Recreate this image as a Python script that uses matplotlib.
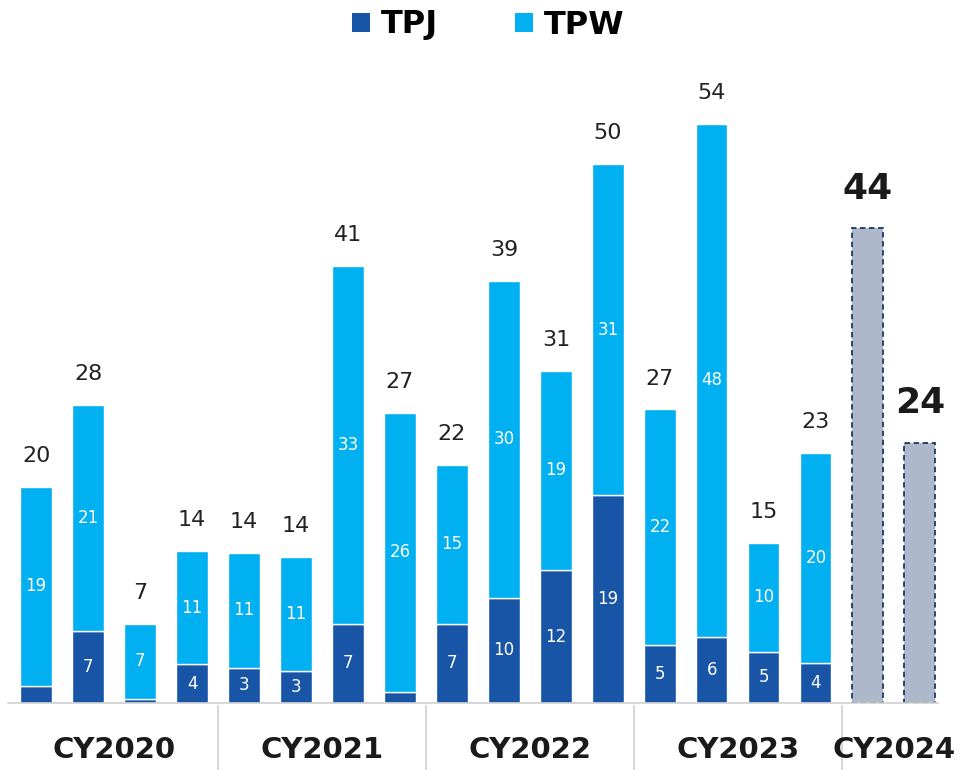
import matplotlib
matplotlib.use("Agg")
import matplotlib.pyplot as plt
import matplotlib.transforms as mtransforms
from matplotlib.patches import Patch
import numpy as np

# ─── Dados ───────────────────────────────────────────────────────────────────
grupos = ["CY2020", "CY2021", "CY2022", "CY2023", "CY2024"]
barras_por_grupo = [4, 4, 4, 4, 2]

tpj = [1.6, 6.7, 0.4, 3.6,
       3.3, 3.0, 7.4, 1.0,
       7.4, 9.8, 12.4, 19.4,
       5.4, 6.2, 4.8, 3.7]
tpw = [18.6, 21.1, 7.0, 10.6,
       10.7, 10.6, 33.4, 26.1,
       14.8, 29.6, 18.6, 30.9,
       22.0, 47.8, 10.1, 19.6]
previsao = [44.3, 24.3]   # CY2024

COR_TPJ = "#1955A6"
COR_TPW = "#00B0F0"
COR_PREV = "#ADB9CA"
COR_BORDA = "#1F3864"

plt.rcParams["font.family"] = "DejaVu Sans"

fig = plt.figure(figsize=(9.67, 7.70), dpi=100)
ax = fig.add_axes([8 / 967, 67 / 770, 942 / 967, 643 / 770])

n_hist = len(tpj)
x_hist = np.arange(n_hist)
x_prev = np.arange(n_hist, n_hist + len(previsao))
largura = 0.6

tpj = np.array(tpj)
tpw = np.array(tpw)
total = tpj + tpw

ax.bar(x_hist, tpj, width=largura, color=COR_TPJ, edgecolor="white", linewidth=1)
ax.bar(x_hist, tpw, width=largura, bottom=tpj, color=COR_TPW, edgecolor="white", linewidth=1)
ax.bar(x_prev, previsao, width=largura, color=COR_PREV, edgecolor=COR_BORDA,
       linewidth=1.3, linestyle=(0, (3, 2)))

# rótulos dentro dos segmentos
for xi, j, w in zip(x_hist, tpj, tpw):
    if j >= 2:
        ax.text(xi, j / 2, f"{j:.0f}", ha="center", va="center", color="white", fontsize=12)
    ax.text(xi, j + w / 2, f"{w:.0f}", ha="center", va="center", color="white", fontsize=12)

# totais
for xi, t in zip(x_hist, total):
    ax.annotate(f"{t:.0f}", (xi, t), xytext=(0, 15), textcoords="offset points",
                ha="center", va="bottom", fontsize=16, color="#222222")
for xi, t in zip(x_prev, previsao):
    ax.annotate(f"{t:.0f}", (xi, t), xytext=(0, 16), textcoords="offset points",
                ha="center", va="bottom", fontsize=26, fontweight="bold", color="#1a1a1a")

ax.set_xlim(-0.54, 17.58)
ax.set_ylim(0, 60)
ax.axis("off")

# linha de base
ax.plot([-0.54, 17.35], [0, 0], color="#D0D0D0", linewidth=1.2, clip_on=False)

# separadores e rótulos dos grupos
trans = mtransforms.blended_transform_factory(ax.transData, ax.transAxes)
inicio = 0
for i, (g, n) in enumerate(zip(grupos, barras_por_grupo)):
    centro = inicio + (n - 1) / 2
    ax.text(centro, -47 / 643, g, transform=trans, ha="center", va="center",
            fontsize=21, fontweight="bold", color="#1a1a1a")
    if i > 0:
        ax.plot([inicio - 0.5, inicio - 0.5], [-0.005, -67 / 643], transform=trans,
                color="#D0D0D0", linewidth=1.2, clip_on=False)
    inicio += n

# legenda
handles = [Patch(facecolor=COR_TPJ, label="TPJ"), Patch(facecolor=COR_TPW, label="TPW")]
fig.legend(handles=handles, loc="center", bbox_to_anchor=(0.505, 1 - 25 / 770), ncol=2,
           frameon=False, handlelength=0.55, handleheight=0.55, handletextpad=0.35,
           columnspacing=2.4, prop={"size": 23, "weight": "bold"})

fig.savefig("out.png", dpi=100)
